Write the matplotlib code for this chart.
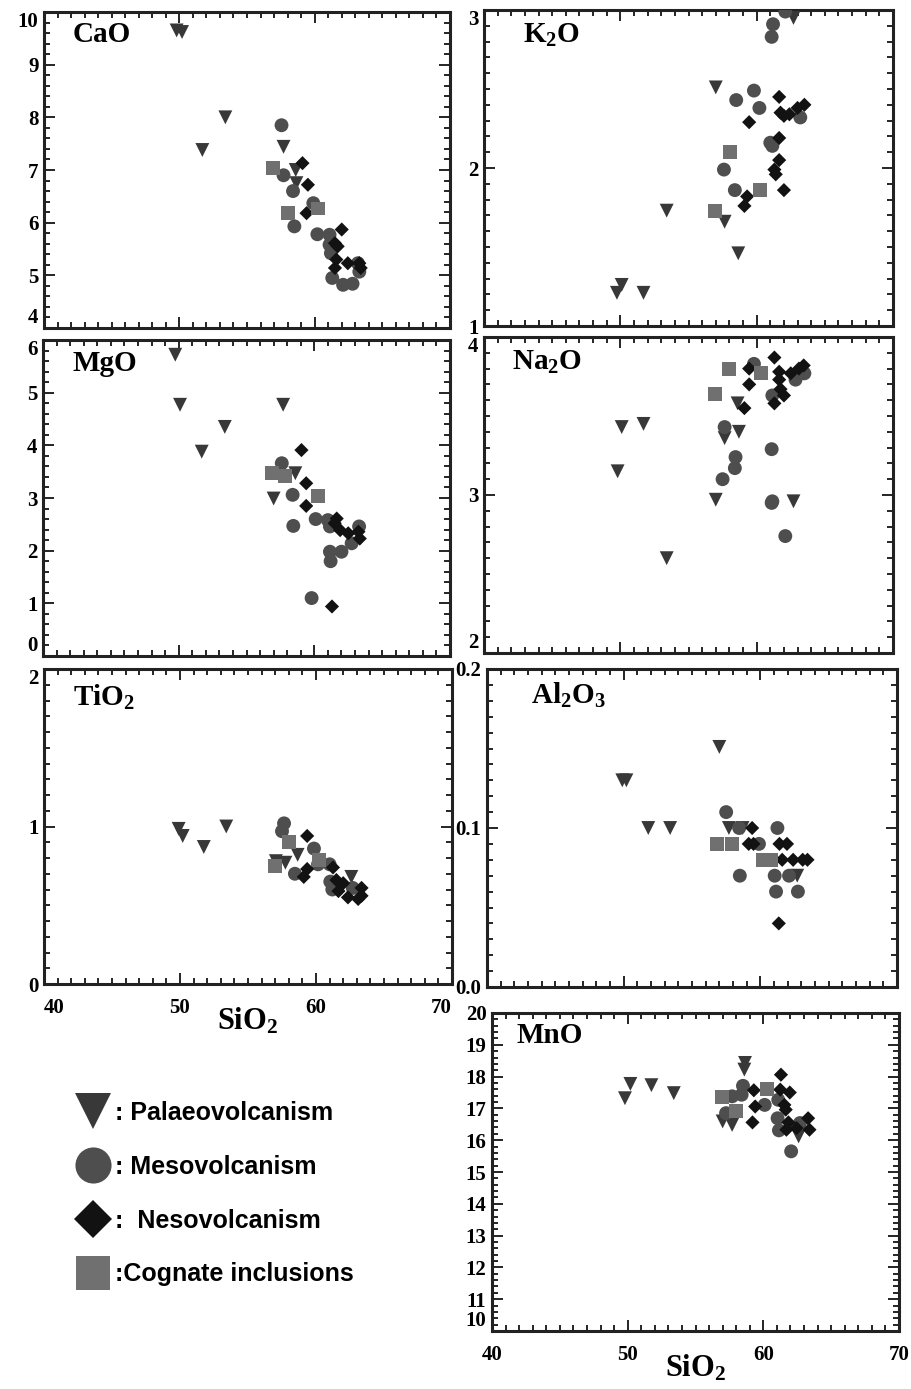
import matplotlib
matplotlib.use("Agg")
import numpy as np
import matplotlib.pyplot as plt
from matplotlib.ticker import MultipleLocator, FormatStrFormatter
from matplotlib.lines import Line2D

plt.rcParams["font.family"] = "Liberation Serif"
plt.rcParams["font.weight"] = "bold"
plt.rcParams["mathtext.fontset"] = "custom"
plt.rcParams["mathtext.rm"] = "Liberation Serif:bold"
plt.rcParams["mathtext.it"] = "Liberation Serif:bold"
plt.rcParams["mathtext.bf"] = "Liberation Serif:bold"

# ---- data (SiO2 vs oxide, wt%) ----
# CaO
cao_pal_si = [49.8, 50.2, 51.7, 53.4, 57.7, 58.6, 58.65]
cao_pal = [9.65, 9.62, 7.38, 8.0, 7.44, 7.0, 6.75]
cao_mes_si = [57.55, 57.7, 58.4, 58.5, 59.9, 60.2, 61.1, 61.1, 61.2, 61.3, 62.1, 62.8, 63.3, 63.2]
cao_mes = [7.85, 6.9, 6.6, 5.93, 6.37, 5.78, 5.77, 5.58, 5.42, 4.95, 4.82, 4.84, 5.07, 5.23]
cao_nes_si = [59.1, 59.5, 59.4, 62.0, 61.5, 61.7, 61.6, 61.5, 62.45, 63.3, 63.4]
cao_nes = [7.13, 6.72, 6.18, 5.87, 5.61, 5.55, 5.3, 5.14, 5.23, 5.23, 5.14]
cao_cog_si = [56.9, 58.0, 60.25]
cao_cog = [7.03, 6.18, 6.27]

# K2O
k2o_pal_si = [57.0, 62.7, 53.4, 57.65, 58.65, 50.1, 49.75, 51.7]
k2o_pal = [2.51, 2.95, 1.73, 1.66, 1.46, 1.26, 1.21, 1.21]
k2o_mes_si = [62.1, 61.2, 61.1, 58.5, 59.8, 60.2, 61.0, 61.15, 57.6, 58.4, 63.2]
k2o_mes = [2.99, 2.91, 2.83, 2.43, 2.49, 2.38, 2.16, 2.14, 1.99, 1.86, 2.32]
k2o_nes_si = [61.65, 61.75, 62.4, 63.0, 63.5, 62.0, 59.45, 61.65, 61.65, 61.3, 61.4, 62.0, 59.3, 59.1]
k2o_nes = [2.45, 2.35, 2.34, 2.38, 2.40, 2.33, 2.29, 2.19, 2.05, 1.99, 1.96, 1.86, 1.82, 1.76]
k2o_cog_si = [58.05, 56.95, 60.25]
k2o_cog = [2.10, 1.73, 1.86]

# MgO
mgo_pal_si = [49.75, 50.1, 51.7, 53.4, 57.7, 57.0, 58.6]
mgo_pal = [5.72, 4.77, 3.88, 4.35, 4.77, 2.99, 3.47]
mgo_mes_si = [57.6, 58.4, 58.45, 60.1, 61.0, 61.15, 61.15, 61.2, 62.0, 62.75, 63.3, 59.8]
mgo_mes = [3.66, 3.06, 2.47, 2.6, 2.58, 2.46, 1.98, 1.8, 1.98, 2.14, 2.46, 1.1]
mgo_nes_si = [59.05, 59.4, 59.4, 61.65, 61.5, 61.9, 62.5, 63.25, 63.35, 61.3]
mgo_nes = [3.91, 3.28, 2.85, 2.61, 2.52, 2.39, 2.33, 2.36, 2.23, 0.94]
mgo_cog_si = [56.85, 57.85, 60.25]
mgo_cog = [3.47, 3.41, 3.03]

# Na2O
na2o_pal_si = [50.1, 51.7, 49.8, 53.4, 57.0, 57.65, 58.7, 58.6, 62.7]
na2o_pal = [3.43, 3.45, 3.15, 2.60, 2.97, 3.36, 3.40, 3.58, 2.96]
na2o_mes_si = [57.65, 58.45, 58.4, 57.5, 59.8, 61.15, 61.1, 61.15, 61.1, 62.1, 62.85, 63.5]
na2o_mes = [3.43, 3.24, 3.17, 3.10, 3.83, 3.63, 3.29, 2.96, 2.95, 2.74, 3.73, 3.77]
na2o_nes_si = [61.3, 59.45, 59.45, 59.1, 61.65, 61.65, 61.75, 62.0, 61.3, 62.5, 63.1, 63.45]
na2o_nes = [3.87, 3.80, 3.70, 3.55, 3.78, 3.73, 3.67, 3.63, 3.58, 3.77, 3.80, 3.82]
na2o_cog_si = [58.0, 60.3, 56.95]
na2o_cog = [3.80, 3.77, 3.64]

# TiO2
tio2_pal_si = [49.9, 50.2, 51.75, 53.4, 57.05, 57.75, 58.65, 62.6]
tio2_pal = [0.985, 0.94, 0.87, 1.0, 0.78, 0.77, 0.82, 0.68]
tio2_mes_si = [57.65, 57.5, 58.45, 59.85, 60.15, 61.0, 61.05, 61.2, 62.7]
tio2_mes = [1.02, 0.97, 0.70, 0.86, 0.76, 0.76, 0.65, 0.60, 0.61]
tio2_nes_si = [59.35, 59.35, 59.1, 61.25, 61.5, 62.0, 61.65, 62.35, 63.1, 63.35, 63.35]
tio2_nes = [0.94, 0.73, 0.68, 0.74, 0.66, 0.64, 0.59, 0.55, 0.54, 0.56, 0.61]
tio2_cog_si = [58.0, 57.0, 60.25]
tio2_cog = [0.90, 0.75, 0.79]

# Al2O3
al2o3_pal_si = [49.9, 50.2, 57.0, 51.8, 53.4, 57.7, 58.7, 62.7]
al2o3_pal = [0.130, 0.130, 0.151, 0.10, 0.10, 0.10, 0.10, 0.07]
al2o3_mes_si = [57.5, 58.45, 59.9, 58.5, 61.25, 61.05, 62.1, 61.15, 62.75]
al2o3_mes = [0.11, 0.10, 0.09, 0.07, 0.10, 0.07, 0.07, 0.06, 0.06]
al2o3_nes_si = [59.4, 59.15, 59.5, 61.4, 61.95, 61.6, 62.4, 63.1, 63.45, 61.35]
al2o3_nes = [0.10, 0.09, 0.09, 0.09, 0.09, 0.08, 0.08, 0.08, 0.08, 0.04]
al2o3_cog_si = [56.8, 57.9, 60.2, 60.8]
al2o3_cog = [0.09, 0.09, 0.08, 0.08]

# MnO
mno_pal_si = [49.8, 50.2, 51.75, 53.4, 58.65, 58.6, 57.0, 57.7, 62.6]
mno_pal = [17.32, 17.77, 17.73, 17.48, 18.43, 18.22, 16.59, 16.48, 16.12]
mno_mes_si = [58.5, 58.4, 57.7, 57.25, 60.1, 61.1, 61.05, 61.15, 62.05, 62.7]
mno_mes = [17.71, 17.43, 17.38, 16.85, 17.11, 17.27, 16.69, 16.31, 15.65, 16.54]
mno_nes_si = [61.3, 59.3, 59.4, 59.2, 61.25, 61.95, 61.55, 61.65, 61.85, 61.7, 62.45, 63.3, 63.4]
mno_nes = [18.06, 17.57, 17.06, 16.56, 17.59, 17.5, 17.11, 16.96, 16.56, 16.33, 16.38, 16.69, 16.33]
mno_cog_si = [56.95, 58.0, 60.25]
mno_cog = [17.36, 16.93, 17.61]

groups = ["Palaeovolcanism", "Mesovolcanism", "Nesovolcanism", "Cognate inclusions"]
markers = ["v", "o", "D", "s"]
colors = ["#383838", "#4e4e4e", "#121212", "#707070"]
sizes = [100, 100, 52, 100]

W, H = 911, 1389
fig = plt.figure(figsize=(W / 100, H / 100), dpi=100)


def make_ax(l, r, t, b):
    return fig.add_axes([l / W, 1 - b / H, (r - l) / W, (b - t) / H])


panels = [
    # label, box (l, r, t, b) px, ylim, major, minor, label pos, end labels pulled inside, data
    ("CaO", (44, 450, 12, 328), (4, 10), 1, 0.2, (0.07, 0.93), (True, True),
     [(cao_pal_si, cao_pal), (cao_mes_si, cao_mes), (cao_nes_si, cao_nes), (cao_cog_si, cao_cog)]),
    ("K$_2$O", (484, 893, 10, 326), (1, 3), 1, 0.1, (0.095, 0.92), (True, False),
     [(k2o_pal_si, k2o_pal), (k2o_mes_si, k2o_mes), (k2o_nes_si, k2o_nes), (k2o_cog_si, k2o_cog)]),
    ("MgO", (43, 450, 340, 656), (0, 6), 1, 0.2, (0.073, 0.927), (True, True),
     [(mgo_pal_si, mgo_pal), (mgo_mes_si, mgo_mes), (mgo_nes_si, mgo_nes), (mgo_cog_si, mgo_cog)]),
    ("Na$_2$O", (484, 893, 337, 653), (2, 4), 1, 0.1, (0.068, 0.92), (True, True),
     [(na2o_pal_si, na2o_pal), (na2o_mes_si, na2o_mes), (na2o_nes_si, na2o_nes), (na2o_cog_si, na2o_cog)]),
    ("TiO$_2$", (44, 452, 669, 984), (0, 2), 1, 0.1, (0.072, 0.91), (True, False),
     [(tio2_pal_si, tio2_pal), (tio2_mes_si, tio2_mes), (tio2_nes_si, tio2_nes), (tio2_cog_si, tio2_cog)]),
    ("Al$_2$O$_3$", (487, 897, 669, 987), (0, 0.2), 0.1, 0.01, (0.107, 0.918), (False, False),
     [(al2o3_pal_si, al2o3_pal), (al2o3_mes_si, al2o3_mes), (al2o3_nes_si, al2o3_nes), (al2o3_cog_si, al2o3_cog)]),
    ("MnO", (492, 899, 1013, 1331), (10, 20), 1, 0.2, (0.061, 0.93), (False, True),
     [(mno_pal_si, mno_pal), (mno_mes_si, mno_mes), (mno_nes_si, mno_nes), (mno_cog_si, mno_cog)]),
]

for name, box, ylim, major, minor, lpos, inside, data in panels:
    ax = make_ax(*box)
    for (xs, ys), m, c, s in zip(data, markers, colors, sizes):
        ax.scatter(xs, ys, marker=m, s=s, color=c, edgecolors="none", zorder=3)
    ax.set_xlim(40, 70)
    ax.set_xticks([40, 50, 60, 70])
    ax.xaxis.set_minor_locator(MultipleLocator(1))
    ax.set_yticks(np.round(np.arange(ylim[0], ylim[1] + major / 2, major), 3))
    ax.yaxis.set_minor_locator(MultipleLocator(minor))
    ax.set_ylim(*ylim)
    if major < 1:
        ax.yaxis.set_major_formatter(FormatStrFormatter("%.1f"))
    ax.tick_params(which="both", direction="in", top=True, right=True,
                   labelsize=15, width=1.2, pad=4)
    ax.tick_params(axis="x", which="major", pad=10)
    ax.tick_params(which="major", length=8)
    ax.tick_params(which="minor", length=4)
    yt = ax.yaxis.get_major_ticks()
    if inside[0]:
        yt[-1].label1.set_verticalalignment("top")
    if inside[1]:
        yt[0].label1.set_verticalalignment("bottom")
    for sp in ax.spines.values():
        sp.set_linewidth(2.2)
        sp.set_color("#222222")
    ax.text(lpos[0], lpos[1], name, transform=ax.transAxes, fontsize=21,
            fontweight="bold", va="center", ha="left")
    if name in ("TiO$_2$", "MnO"):
        ax.set_xlabel("SiO$_2$", fontsize=22, fontweight="bold")
        ax.xaxis.set_label_coords(0.5, -0.07)
        if name == "TiO$_2$":
            xt = ax.xaxis.get_major_ticks()
            xt[0].label1.set_horizontalalignment("left")
            xt[-1].label1.set_horizontalalignment("right")
    else:
        ax.tick_params(labelbottom=False)

handles = [Line2D([], [], linestyle="none", marker=m, markersize=ms, color=c, markeredgewidth=0)
           for m, c, ms in zip(markers, colors, [26, 26, 19, 25])]
labels = [": Palaeovolcanism", ": Mesovolcanism", ":  Nesovolcanism", ":Cognate inclusions"]
fig.legend(handles, labels, loc="upper left", bbox_to_anchor=(55 / W, 1 - 1078 / H),
           frameon=False, handletextpad=0.3, labelspacing=1.2, handlelength=1.2,
           prop={"family": "Liberation Sans", "weight": "bold", "size": 18})

fig.savefig("out.png", dpi=100)
